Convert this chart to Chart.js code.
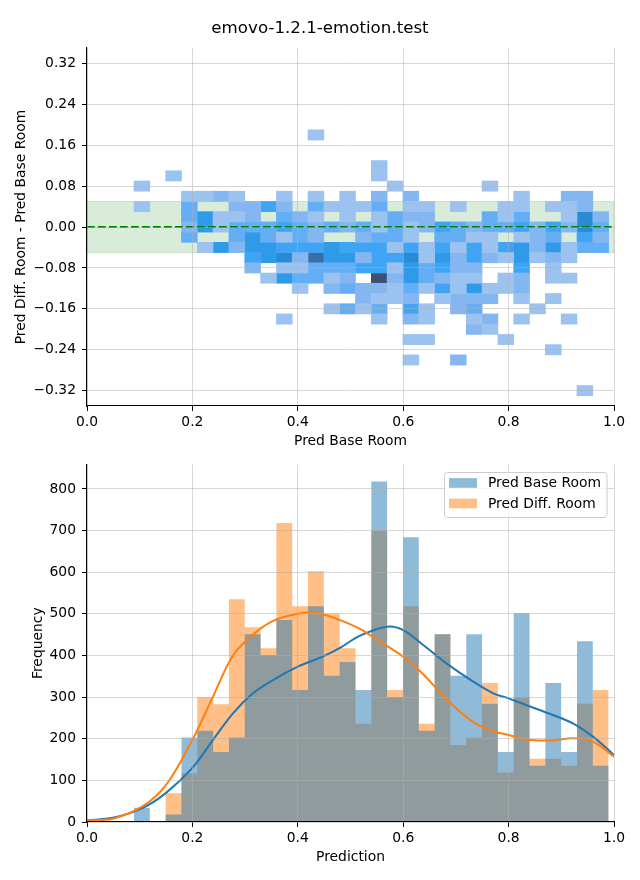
<!DOCTYPE html>
<html><head><meta charset="utf-8">
<script src="https://cdn.jsdelivr.net/npm/chart.js@4.4.0/dist/chart.umd.min.js"></script>
<style>
html,body{margin:0;padding:0;background:#fff;}
#wrap{position:relative;width:640px;height:880px;overflow:hidden;}
#c1{position:absolute;left:0;top:0;}
#c2{position:absolute;left:0;top:450px;}
</style></head><body>
<div id="wrap">
<canvas id="c1" width="640" height="450"></canvas>
<canvas id="c2" width="640" height="430"></canvas>
</div>
<script>
// ---------- data ----------
const titleText = "emovo-1.2.1-emotion.test";
const binStart = 0.0892;
const binWidth = 0.03002;
const binCount = 30;

const baseCounts = [34,0,18,203,219,168,203,451,401,485,317,518,351,384,317,818,300,684,219,451,351,451,284,168,502,135,334,168,434,135];
const diffCounts = [0,0,69,117,300,283,535,468,417,718,518,602,501,417,236,700,317,518,236,451,185,203,334,119,300,152,152,135,284,317];

const kdeBaseX = [0,0.049,0.106,0.15,0.2,0.239,0.277,0.315,0.353,0.4,0.447,0.48,0.517,0.569,0.6,0.638,0.682,0.733,0.771,0.8,0.833,0.884,0.922,0.96,1.0];
const kdeBaseY = [4,10,34,70,130,197,261,309,341,373,397,418,447,469,461,425,381,337,309,297,281,257,237,205,161];
const kdeDiffX = [0,0.049,0.106,0.15,0.2,0.239,0.277,0.315,0.353,0.4,0.425,0.447,0.48,0.518,0.556,0.6,0.638,0.682,0.733,0.771,0.8,0.833,0.884,0.922,0.96,1.0];
const kdeDiffY = [4,8,38,89,197,301,400,450,483,500,503,499,485,464,433,397,355,295,240,218,209,198,196,201,193,157];

// 2D histogram: row centre values and colour level per x-bin (0 = empty)
const cellRowValues = [0.18,0.16,0.14,0.12,0.10,0.08,0.06,0.04,0.02,0.00,-0.02,-0.04,-0.06,-0.08,-0.10,-0.12,-0.14,-0.16,-0.18,-0.20,-0.22,-0.24,-0.26,-0.28,-0.30,-0.32];
const cellRows = [
"000000000001000000000000000000",
"000000000000000000000000000000",
"000000000000000000000000000000",
"000000000000000100000000000000",
"001000000000000100000000000000",
"100000000000000010000010000000",
"000112100101010202000000100220",
"100300224203111301101001101120",
"000351120321010132200031300162",
"000251333432323131243233424263",
"000300353132002331033110123042",
"000015255444544414141414525133",
"000000045627552446152421512100",
"000000020113334415342200401000",
"000000001533120825321101201100",
"000000000010232213141511200000",
"000000000000002112012220101000",
"000000000000131304102300010000",
"000000000100000102100120100100",
"000000000000000000000210000000",
"000000000000000001100001000000",
"000000000000000000000000001000",
"000000000000000001002000000000",
"000000000000000000000000000000",
"000000000000000000000000000000",
"000000000000000000000000000010"
];
const cellHalfHeight = 0.01;
const levelColors = [null,"#9cc3ef","#84b6f2","#64aef5","#40a4f5","#2e9ae8","#2a8ad4","#3a6ea5","#3d5070"];
const bandHalf = 0.05;

const xTicks = [0,0.2,0.4,0.6,0.8,1.0];
const yTicksTop = [-0.32,-0.24,-0.16,-0.08,0,0.08,0.16,0.24,0.32];
const yTicksBottom = [0,100,200,300,400,500,600,700,800];

// ---------- styling ----------
Chart.defaults.font.family = "DejaVu Sans";
Chart.defaults.font.size = 13.89;
Chart.defaults.color = "#000";
const gridColor = "rgba(176,176,176,0.5)";
const tickFont = {family:"DejaVu Sans", size:13.89};

function binCenter(i){ return binStart + binWidth*(i+0.5); }
function binEdge(i){ return binStart + binWidth*i; }
function fmtSigned(v,d){ return (v < -1e-9 ? "\u2212" : "") + Math.abs(v).toFixed(d); }
function stepData(counts){
  const pts = counts.map((v,i) => ({x: binEdge(i), y: v}));
  pts.push({x: binEdge(counts.length), y: counts[counts.length-1]});
  return pts;
}

function xScale(titleTxt, titlePadBottom, h){
  return {
    type:"linear", position:"bottom", min:0, max:1, offset:false,
    afterBuildTicks: s => { s.ticks = xTicks.map(v => ({value:v})); },
    afterFit: s => { s.height = h; },
    ticks:{callback: v => Number(v).toFixed(1), padding:3, maxRotation:0, autoSkip:false, font:tickFont},
    grid:{color:gridColor, z:1, offset:false, lineWidth:1, tickLength:5, tickColor:"#000", drawTicks:true},
    border:{display:true, color:"#000", width:1.1, z:1},
    title:{display:true, text:titleTxt, font:tickFont, padding:{top:0,bottom:titlePadBottom}}
  };
}
function yScale(min, max, ticks, fmt, titleTxt, titlePadTop){
  return {
    type:"linear", position:"left", min, max,
    afterBuildTicks: s => { s.ticks = ticks.map(v => ({value:v})); },
    afterFit: s => { s.width = 87; },
    ticks:{callback: fmt, padding:6, font:tickFont},
    grid:{color:gridColor, z:1, offset:false, lineWidth:1, tickLength:5, tickColor:"#000", drawTicks:true},
    border:{display:true, color:"#000", width:1.1, z:1},
    title:{display:true, text:titleTxt, font:tickFont, padding:{top:titlePadTop,bottom:0}}
  };
}

// ---------- chart 1: 2D histogram ----------
const cellDatasets = [];
for (let lv = 1; lv < levelColors.length; lv++) {
  const data = [];
  cellRows.forEach((row, r) => {
    for (let c = 0; c < binCount; c++) {
      if (Number(row[c]) === lv) {
        data.push({x: binCenter(c), y: [cellRowValues[r]-cellHalfHeight, cellRowValues[r]+cellHalfHeight]});
      }
    }
  });
  if (data.length) cellDatasets.push({
    type:"bar", data, backgroundColor: levelColors[lv], borderWidth:0,
    grouped:false, categoryPercentage:1, barPercentage:1, order:2
  });
}

const bandPlugin = {
  id:"band",
  beforeDatasetsDraw(chart){
    const {ctx, chartArea, scales:{y}} = chart;
    const t = y.getPixelForValue(bandHalf), b = y.getPixelForValue(-bandHalf);
    ctx.save();
    ctx.fillStyle = "rgba(0,128,0,0.15)";
    ctx.fillRect(chartArea.left, t, chartArea.right-chartArea.left, b-t);
    ctx.strokeStyle = "rgba(0,128,0,0.15)";
    ctx.lineWidth = 1;
    ctx.strokeRect(chartArea.left, t, chartArea.right-chartArea.left, b-t);
    ctx.restore();
  }
};
const suptitlePlugin = {
  id:"suptitle",
  afterDraw(chart){
    const ctx = chart.ctx;
    ctx.save();
    ctx.font = '16.67px "DejaVu Sans"';
    ctx.fillStyle = "#000";
    ctx.textAlign = "center";
    ctx.textBaseline = "alphabetic";
    ctx.fillText(titleText, 320, 32.5);
    ctx.restore();
  }
};

new Chart(document.getElementById("c1"), {
  type:"bar",
  data:{datasets:[
    ...cellDatasets,
    {type:"line", data:[{x:0,y:0},{x:1,y:0}], borderColor:"green", borderWidth:2.1,
     borderDash:[7.7,3.3], pointRadius:0, order:0}
  ]},
  options:{
    responsive:false, animation:false, devicePixelRatio:1,
    layout:{padding:{top:48, right:26, left:0, bottom:0}},
    plugins:{legend:{display:false}, tooltip:{enabled:false}},
    scales:{
      x: xScale("Pred Base Room", 0.5, 44),
      y: yScale(-0.35, 0.35, yTicksTop, v => fmtSigned(v,2), "Pred Diff. Room - Pred Base Room", 12.7)
    }
  },
  plugins:[bandPlugin, suptitlePlugin]
});

// ---------- chart 2: histograms + KDE ----------
const legendPlugin = {
  id:"boxLegend",
  afterDraw(chart){
    const ctx = chart.ctx;
    const items = chart.data.datasets.filter(d => d.label);
    ctx.save();
    const bx = 444.5, by = 22.5, bw = 162.5, bh = 45, r = 3;
    ctx.beginPath();
    ctx.moveTo(bx+r, by); ctx.lineTo(bx+bw-r, by); ctx.arcTo(bx+bw, by, bx+bw, by+r, r);
    ctx.lineTo(bx+bw, by+bh-r); ctx.arcTo(bx+bw, by+bh, bx+bw-r, by+bh, r);
    ctx.lineTo(bx+r, by+bh); ctx.arcTo(bx, by+bh, bx, by+bh-r, r);
    ctx.lineTo(bx, by+r); ctx.arcTo(bx, by, bx+r, by, r); ctx.closePath();
    ctx.fillStyle = "rgba(255,255,255,0.8)"; ctx.fill();
    ctx.strokeStyle = "#cccccc"; ctx.lineWidth = 1; ctx.stroke();
    ctx.font = '13.89px "DejaVu Sans"';
    ctx.textBaseline = "middle"; ctx.textAlign = "left";
    items.forEach((d, i) => {
      const cy = 33 + i*20.5;
      ctx.fillStyle = d.backgroundColor;
      ctx.fillRect(449, cy-4.9, 28, 9.7);
      ctx.fillStyle = "#000";
      ctx.fillText(d.label, 488, cy+0.5);
    });
    ctx.restore();
  }
};

new Chart(document.getElementById("c2"), {
  type:"line",
  data:{datasets:[
    {label:"Pred Base Room", data: stepData(baseCounts), stepped:true, fill:"origin",
     backgroundColor:"rgba(31,119,180,0.5)", borderColor:"rgba(0,0,0,0)", borderWidth:0,
     pointRadius:0, order:1},
    {label:"Pred Diff. Room", data: stepData(diffCounts), stepped:true, fill:"origin",
     backgroundColor:"rgba(255,127,14,0.5)", borderColor:"rgba(0,0,0,0)", borderWidth:0,
     pointRadius:0, order:2},
    {data: kdeDiffX.map((x,i)=>({x, y:kdeDiffY[i]})), borderColor:"#ff7f0e", fill:false,
     borderWidth:2, pointRadius:0, tension:0.35, order:0},
    {data: kdeBaseX.map((x,i)=>({x, y:kdeBaseY[i]})), borderColor:"#1f77b4", fill:false,
     borderWidth:2, pointRadius:0, tension:0.35, order:0}
  ]},
  options:{
    responsive:false, animation:false, devicePixelRatio:1,
    layout:{padding:{top:14, right:26, left:0, bottom:0}},
    plugins:{legend:{display:false}, tooltip:{enabled:false}},
    scales:{
      x: xScale("Prediction", 14.7, 58),
      y: yScale(0, 859, yTicksBottom, v => String(v), "Frequency", 29.7)
    }
  },
  plugins:[legendPlugin]
});
</script>
</body></html>
